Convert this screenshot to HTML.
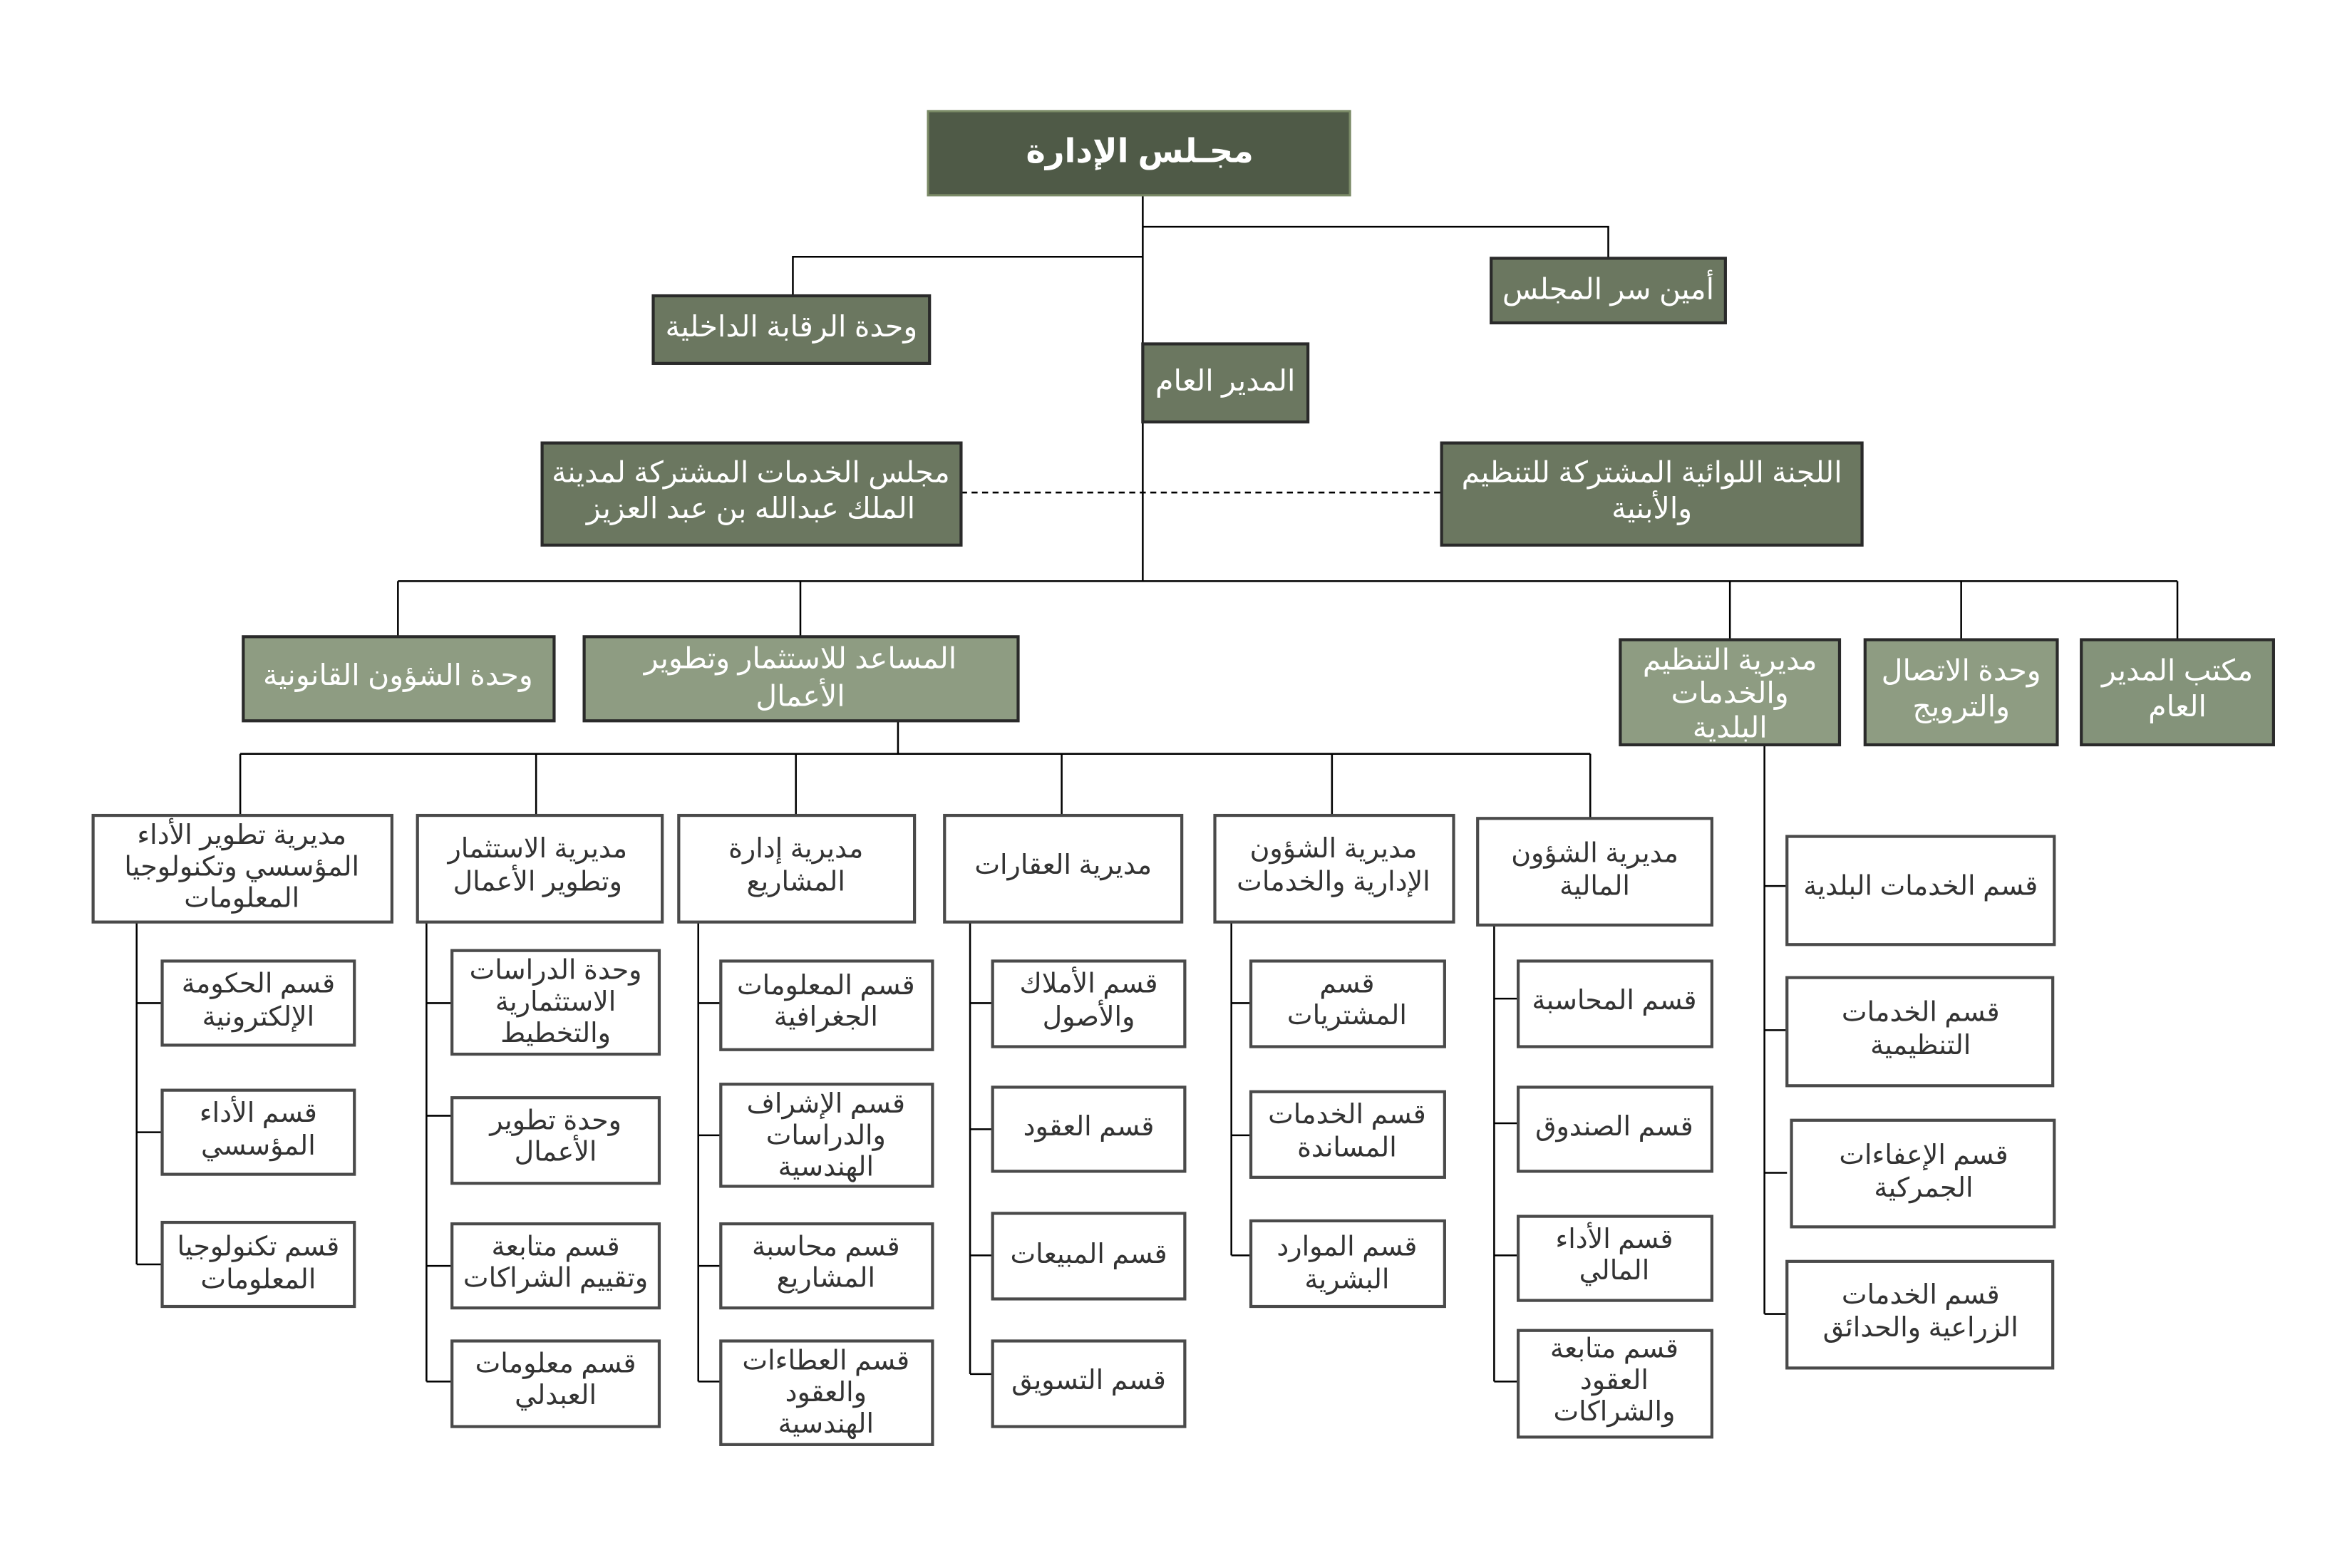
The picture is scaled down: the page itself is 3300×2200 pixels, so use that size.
<!DOCTYPE html>
<html><head><meta charset="utf-8"><style>
html,body{margin:0;padding:0;background:#fff;width:3300px;height:2200px;overflow:hidden}
svg{display:block}
text{font-family:"Liberation Sans","Noto Sans CJK SC","DejaVu Sans",sans-serif;text-anchor:middle;direction:rtl}
</style></head><body>
<svg width="3300" height="2200" viewBox="0 0 1560 1040" xmlns="http://www.w3.org/2000/svg">
<g transform="scale(0.996)">
<g stroke="#000" stroke-width="1.2" fill="none">
<path d="M761 130V387M761 151H1071V172M761 171H528V197M265 387H1450M265 387V424M533 387V424M1152 387V426M1306 387V426M1450 387V426"/>
<path d="M640 328H960" stroke-dasharray="4 3"/>
<path d="M598 480V502M160 502H1059M160 502V543M357 502V543M530 502V543M707 502V543M887 502V543M1059 502V545"/>
<path d="M91 614V842M91 668H108M91 754H108M91 842H108"/>
<path d="M284 614V920M284 668H301M284 743H301M284 843H301M284 920H301"/>
<path d="M465 614V920M465 668H480M465 756H480M465 843H480M465 920H480"/>
<path d="M646 614V915M646 668H661M646 752H661M646 836H661M646 915H661"/>
<path d="M820 614V836M820 668H833M820 756H833M820 836H833"/>
<path d="M995 616V920M995 665H1011M995 748H1011M995 836H1011M995 920H1011"/>
<path d="M1175 496V875M1175 590H1190M1175 686H1190M1175 781H1190M1175 875H1190"/>
</g>
<g stroke="#2a2a2a" stroke-width="2">
<rect x="618" y="74" width="281" height="56" fill="#4f5a47" stroke="#7a8a66" stroke-width="1.5"/>
<rect x="993" y="172" width="156" height="43" fill="#6b7760"/>
<rect x="435" y="197" width="184" height="45" fill="#6b7760"/>
<rect x="761" y="229" width="110" height="52" fill="#6b7760"/>
<rect x="361" y="295" width="279" height="68" fill="#6b7760"/>
<rect x="960" y="295" width="280" height="68" fill="#6b7760"/>
<rect x="162" y="424" width="207" height="56" fill="#8e9c82"/>
<rect x="389" y="424" width="289" height="56" fill="#8e9c82"/>
<rect x="1079" y="426" width="146" height="70" fill="#8e9c82"/>
<rect x="1242" y="426" width="128" height="70" fill="#8e9c82"/>
<rect x="1386" y="426" width="128" height="70" fill="#84937a"/>
</g>
<g stroke="#4a4a4a" stroke-width="2" fill="#fff">
<rect x="62" y="543" width="199" height="71"/><rect x="278" y="543" width="163" height="71"/>
<rect x="452" y="543" width="157" height="71"/><rect x="629" y="543" width="158" height="71"/>
<rect x="809" y="543" width="159" height="71"/><rect x="984" y="545" width="156" height="71"/>
<rect x="108" y="640" width="128" height="56"/><rect x="108" y="726" width="128" height="56"/><rect x="108" y="814" width="128" height="56"/>
<rect x="301" y="633" width="138" height="69"/><rect x="301" y="731" width="138" height="57"/><rect x="301" y="815" width="138" height="56"/><rect x="301" y="893" width="138" height="57"/>
<rect x="480" y="640" width="141" height="59"/><rect x="480" y="722" width="141" height="68"/><rect x="480" y="815" width="141" height="56"/><rect x="480" y="893" width="141" height="69"/>
<rect x="661" y="640" width="128" height="57"/><rect x="661" y="724" width="128" height="56"/><rect x="661" y="808" width="128" height="57"/><rect x="661" y="893" width="128" height="57"/>
<rect x="833" y="640" width="129" height="57"/><rect x="833" y="727" width="129" height="57"/><rect x="833" y="813" width="129" height="57"/>
<rect x="1011" y="640" width="129" height="57"/><rect x="1011" y="724" width="129" height="56"/><rect x="1011" y="810" width="129" height="56"/><rect x="1011" y="886" width="129" height="71"/>
<rect x="1190" y="557" width="178" height="72"/><rect x="1190" y="651" width="177" height="72"/><rect x="1193" y="746" width="175" height="71"/><rect x="1190" y="840" width="177" height="71"/>
</g>
<g fill="#fff" font-size="19.5">
<text x="759" y="108" font-size="22" font-weight="bold">مجـلس الإدارة</text>
<text x="1071" y="199">أمين سر المجلس</text>
<text x="527" y="224">وحدة الرقابة الداخلية</text>
<text x="816" y="260">المدير العام</text>
<text x="500" y="321">مجلس الخدمات المشتركة لمدينة</text><text x="500" y="345">الملك عبدالله بن عبد العزيز</text>
<text x="1100" y="321">اللجنة اللوائية المشتركة للتنظيم</text><text x="1100" y="345">والأبنية</text>
<text x="265" y="456">وحدة الشؤون القانونية</text>
<text x="533" y="445">المساعد للاستثمار وتطوير</text><text x="533" y="470">الأعمال</text>
<text x="1152" y="446">مديرية التنظيم</text><text x="1152" y="468">والخدمات</text><text x="1152" y="491">البلدية</text>
<text x="1306" y="453">وحدة الاتصال</text><text x="1306" y="477">والترويج</text>
<text x="1450" y="453">مكتب المدير</text><text x="1450" y="477">العام</text>
</g>
<g fill="#333" font-size="18">
<text x="161" y="562">مديرية تطوير الأداء</text><text x="161" y="583">المؤسسي وتكنولوجيا</text><text x="161" y="604">المعلومات</text>
<text x="358" y="571">مديرية الاستثمار</text><text x="358" y="593">وتطوير الأعمال</text>
<text x="530" y="571">مديرية إدارة</text><text x="530" y="593">المشاريع</text>
<text x="708" y="582">مديرية العقارات</text>
<text x="888" y="571">مديرية الشؤون</text><text x="888" y="593">الإدارية والخدمات</text>
<text x="1062" y="574">مديرية الشؤون</text><text x="1062" y="596">المالية</text>
<text x="172" y="661">قسم الحكومة</text><text x="172" y="683">الإلكترونية</text>
<text x="172" y="747">قسم الأداء</text><text x="172" y="769">المؤسسي</text>
<text x="172" y="836">قسم تكنولوجيا</text><text x="172" y="858">المعلومات</text>
<text x="370" y="652">وحدة الدراسات</text><text x="370" y="673">الاستثمارية</text><text x="370" y="694">والتخطيط</text>
<text x="370" y="752">وحدة تطوير</text><text x="370" y="773">الأعمال</text>
<text x="370" y="836">قسم متابعة</text><text x="370" y="857">وتقييم الشراكات</text>
<text x="370" y="914">قسم معلومات</text><text x="370" y="935">العبدلي</text>
<text x="550" y="662">قسم المعلومات</text><text x="550" y="683">الجغرافية</text>
<text x="550" y="741">قسم الإشراف</text><text x="550" y="762">والدراسات</text><text x="550" y="783">الهندسية</text>
<text x="550" y="836">قسم محاسبة</text><text x="550" y="857">المشاريع</text>
<text x="550" y="912">قسم العطاءات</text><text x="550" y="933">والعقود</text><text x="550" y="954">الهندسية</text>
<text x="725" y="661">قسم الأملاك</text><text x="725" y="683">والأصول</text>
<text x="725" y="756">قسم العقود</text>
<text x="725" y="841">قسم المبيعات</text>
<text x="725" y="925">قسم التسويق</text>
<text x="897" y="661">قسم</text><text x="897" y="682">المشتريات</text>
<text x="897" y="748">قسم الخدمات</text><text x="897" y="770">المساندة</text>
<text x="897" y="836">قسم الموارد</text><text x="897" y="858">البشرية</text>
<text x="1075" y="672">قسم المحاسبة</text>
<text x="1075" y="756">قسم الصندوق</text>
<text x="1075" y="831">قسم الأداء</text><text x="1075" y="852">المالي</text>
<text x="1075" y="904">قسم متابعة</text><text x="1075" y="925">العقود</text><text x="1075" y="946">والشراكات</text>
<text x="1279" y="596">قسم الخدمات البلدية</text>
<text x="1279" y="680">قسم الخدمات</text><text x="1279" y="702">التنظيمية</text>
<text x="1281" y="775">قسم الإعفاءات</text><text x="1281" y="797">الجمركية</text>
<text x="1279" y="868">قسم الخدمات</text><text x="1279" y="890">الزراعية والحدائق</text>
</g>
</g>
</svg>
</body></html>
